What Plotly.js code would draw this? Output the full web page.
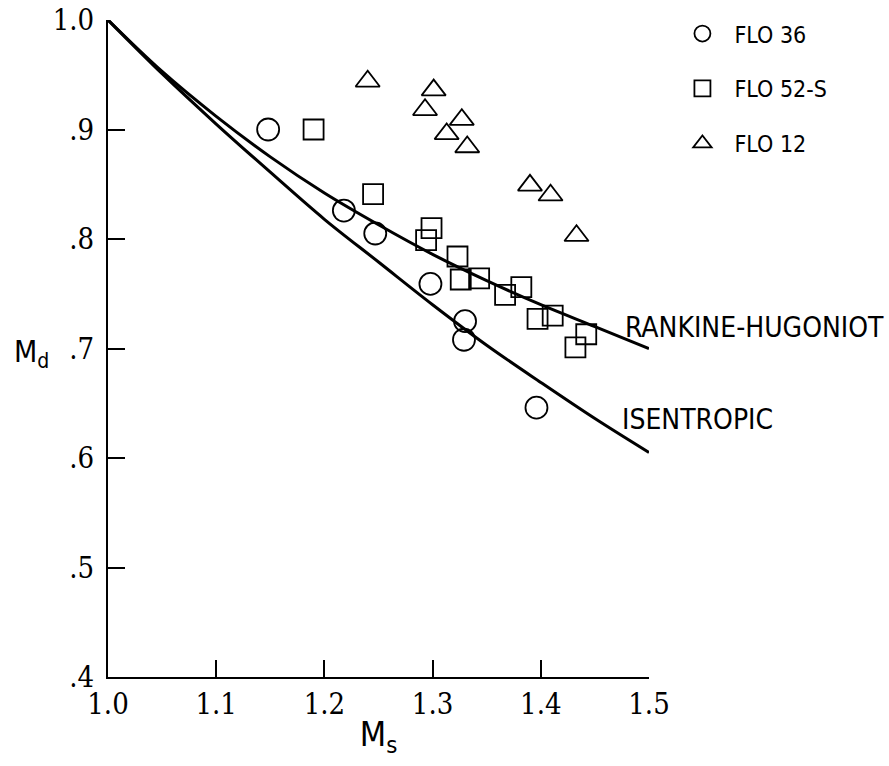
<!DOCTYPE html>
<html>
<head>
<meta charset="utf-8">
<script src="https://cdn.plot.ly/plotly-3.0.1.min.js"></script>
<style>html,body{margin:0;padding:0;background:#fff;}#chart{width:889px;height:766px;}</style>
</head>
<body>
<div id="chart"></div>
<script>
// Theoretical curves
const msGrid       = [1.00, 1.05, 1.10, 1.15, 1.20, 1.25, 1.30, 1.35, 1.40, 1.45, 1.50];
const rankineMd    = [1.000, 0.953, 0.912, 0.875, 0.842, 0.813, 0.786, 0.762, 0.740, 0.720, 0.700];
const isentropicMd = [1.000, 0.951, 0.905, 0.861, 0.818, 0.779, 0.740, 0.703, 0.669, 0.636, 0.605];

// Measured points
const flo36Ms = [1.148, 1.218, 1.247, 1.298, 1.330, 1.329, 1.396];
const flo36Md = [0.900, 0.826, 0.805, 0.759, 0.725, 0.708, 0.646];

const flo52Ms = [1.190, 1.245, 1.299, 1.294, 1.323, 1.326, 1.343, 1.367, 1.382, 1.397, 1.411, 1.432, 1.442];
const flo52Md = [0.900, 0.841, 0.810, 0.799, 0.784, 0.763, 0.764, 0.749, 0.756, 0.727, 0.730, 0.701, 0.713];

const flo12Ms = [1.240, 1.301, 1.293, 1.327, 1.313, 1.332, 1.390, 1.409, 1.433];
const flo12Md = [0.944, 0.936, 0.918, 0.909, 0.896, 0.884, 0.849, 0.840, 0.803];

const seriesNames = ["FLO 36", "FLO 52-S", "FLO 12"];
const curveNames  = ["RANKINE-HUGONIOT", "ISENTROPIC"];

const xTickVals = [1.0, 1.1, 1.2, 1.3, 1.4, 1.5];
const xTickText = ["1.0", "1.1", "1.2", "1.3", "1.4", "1.5"];
const yTickVals = [0.4, 0.5, 0.6, 0.7, 0.8, 0.9, 1.0];
const yTickText = [".4", ".5", ".6", ".7", ".8", ".9", "1.0"];

const labelFont = '"DejaVu Sans Condensed", "DejaVu Sans", sans-serif';
const tickFont  = '"DejaVu Serif Condensed", "DejaVu Serif", "Liberation Serif", serif';

const mk = (sym, size) => ({symbol: sym, size: size, color: '#000', line: {color: '#000', width: 1.8}});

const traces = [
  {x: msGrid, y: rankineMd, mode: 'lines', name: curveNames[0], showlegend: false,
   line: {color: '#000', width: 3, shape: 'spline', smoothing: 1}, cliponaxis: false},
  {x: msGrid, y: isentropicMd, mode: 'lines', name: curveNames[1], showlegend: false,
   line: {color: '#000', width: 3, shape: 'spline', smoothing: 1}, cliponaxis: false},
  {x: flo36Ms, y: flo36Md, mode: 'markers', name: seriesNames[0], legendgroup: 'a',
   marker: mk('circle-open', 22), cliponaxis: false},
  {x: flo52Ms, y: flo52Md, mode: 'markers', name: seriesNames[1], legendgroup: 'b',
   marker: mk('square-open', 20), cliponaxis: false},
  {x: flo12Ms, y: flo12Md, mode: 'markers', name: seriesNames[2], legendgroup: 'c',
   marker: mk('triangle-up-open', 21), cliponaxis: false}
];

const layout = {
  width: 889, height: 766,
  margin: {l: 108, r: 240, t: 20, b: 89, pad: 0},
  paper_bgcolor: '#fff', plot_bgcolor: '#fff',
  showlegend: true,
  legend: {x: 1.0396, y: 1.012, xanchor: 'left', yanchor: 'top', bgcolor: 'rgba(0,0,0,0)',
           font: {family: labelFont, size: 23, color: '#000'}, tracegroupgap: 22,
           itemsizing: 'trace', itemwidth: 54},
  xaxis: {
    range: [1.0, 1.5], showgrid: false, zeroline: false,
    showline: true, linecolor: '#000', linewidth: 2, mirror: false,
    ticks: 'inside', ticklen: 17, tickwidth: 2, tickcolor: '#000',
    tickvals: xTickVals, ticktext: xTickText, ticklabelstandoff: 0,
    tickfont: {family: tickFont, size: 29, color: '#000'},
    title: {text: 'M<sub>s</sub>', font: {family: labelFont, size: 34, color: '#000'}, standoff: 2}
  },
  yaxis: {
    range: [0.4, 1.0], showgrid: false, zeroline: false,
    showline: true, linecolor: '#000', linewidth: 2, mirror: false,
    ticks: 'inside', ticklen: 17, tickwidth: 2, tickcolor: '#000',
    tickvals: yTickVals, ticktext: yTickText, ticklabelstandoff: 6,
    tickfont: {family: tickFont, size: 29, color: '#000'}
  },
  annotations: [
    {xref: 'paper', yref: 'y', x: -0.178, y: 0.695, xanchor: 'left', yanchor: 'middle',
     text: 'M<sub>d</sub>', showarrow: false, font: {family: labelFont, size: 30, color: '#000'}},
    {xref: 'x', yref: 'y', x: 1.476, y: 0.719, xanchor: 'left', yanchor: 'middle',
     text: curveNames[0], showarrow: false, font: {family: labelFont, size: 28, color: '#000'}},
    {xref: 'x', yref: 'y', x: 1.473, y: 0.635, xanchor: 'left', yanchor: 'middle',
     text: curveNames[1], showarrow: false, font: {family: labelFont, size: 28, color: '#000'}}
  ]
};

Plotly.newPlot('chart', traces, layout, {displayModeBar: false, staticPlot: true});
</script>
</body>
</html>
